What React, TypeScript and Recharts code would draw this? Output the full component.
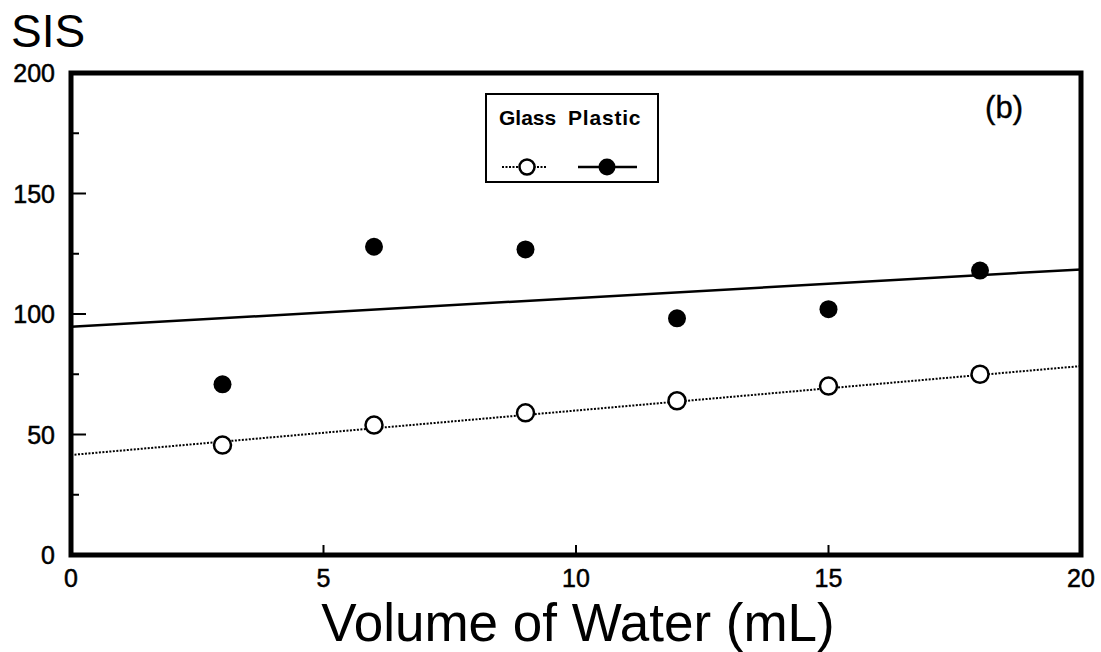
import {
  ComposedChart,
  Line,
  Scatter,
  XAxis,
  YAxis,
  ReferenceArea,
  Legend,
  Label,
} from 'recharts';

// measured SIS values at each water volume
const volumes = [3, 6, 9, 12, 15, 18];
const glassSIS = [45.6, 53.9, 59, 64, 70.1, 75];
const plasticSIS = [70.8, 127.9, 126.8, 98.2, 102, 118];

// fitted regression lines (end points)
const fitVolumes = [0, 20];
const glassFit = [41.5, 78.4];
const plasticFit = [94.7, 118.5];

const xTicks = [0, 5, 10, 15, 20];
const yTicks = [0, 25, 50, 75, 100, 125, 150, 175, 200];

const glassPoints = volumes.map((v, i) => ({ x: v, y: glassSIS[i] }));
const plasticPoints = volumes.map((v, i) => ({ x: v, y: plasticSIS[i] }));
const glassLine = fitVolumes.map((v, i) => ({ x: v, y: glassFit[i] }));
const plasticLine = fitVolumes.map((v, i) => ({ x: v, y: plasticFit[i] }));

const textFont = '"Liberation Sans", Arial, sans-serif';

const YTick = ({ x, y, payload }: any) => {
  const v = payload.value;
  const major = v % 50 === 0;
  return (
    <g>
      {v > 0 && v < 200 && (
        <line x1={x} x2={x + (major ? 15 : 8)} y1={y} y2={y} stroke="#000" strokeWidth={2} />
      )}
      {major && (
        <text x={x - 16} y={y} dy="0.36em" textAnchor="end" fontSize={25} fontFamily={textFont} fill="#000" stroke="#000" strokeWidth={0.5}>
          {v}
        </text>
      )}
    </g>
  );
};

const XTick = ({ x, y, payload }: any) => {
  const v = payload.value;
  return (
    <g>
      {v > 0 && v < 20 && <line x1={x} x2={x} y1={y} y2={y - 10} stroke="#000" strokeWidth={2} />}
      <text x={x} y={y + 32} textAnchor="middle" fontSize={25} fontFamily={textFont} fill="#000" stroke="#000" strokeWidth={0.5}>
        {v}
      </text>
    </g>
  );
};

const LegendBox = () => (
  <svg width={174} height={90}>
    <rect x={1} y={1} width={172} height={88} fill="#fff" stroke="#000" strokeWidth={2} />
    <text x={14} y={32} fontSize={21} fontWeight="bold" fontFamily={textFont} fill="#000">
      Glass
    </text>
    <text x={83} y={32} fontSize={21} fontWeight="bold" fontFamily={textFont} fill="#000" letterSpacing={0.8}>
      Plastic
    </text>
    <line x1={17} x2={62} y1={74} y2={74} stroke="#000" strokeWidth={2} strokeDasharray="2 1.5" />
    <circle cx={42} cy={74} r={7.5} fill="#fff" stroke="#000" strokeWidth={2.5} />
    <line x1={93} x2={152} y1={74} y2={74} stroke="#000" strokeWidth={2.5} />
    <circle cx={122} cy={74} r={8.5} fill="#000" />
  </svg>
);

const OpenDot = (p: any) => (
  <circle cx={p.cx} cy={p.cy} r={8.5} fill="#fff" stroke="#000" strokeWidth={2.5} />
);
const FilledDot = (p: any) => <circle cx={p.cx} cy={p.cy} r={9} fill="#000" />;

export default function App() {
  return (
    <div style={{ position: 'absolute', left: 0, top: 0, background: '#fff' }}>
      <ComposedChart width={1101} height={652} margin={{ top: 73, right: 20, bottom: 0, left: 11 }}>
        <XAxis
          type="number"
          dataKey="x"
          domain={[0, 20]}
          ticks={xTicks}
          height={97}
          axisLine={false}
          tickLine={false}
          tickSize={0}
          tickMargin={0}
          tick={<XTick />}
          allowDataOverflow
        >
          <Label
            content={({ viewBox }: any) => (
              <text
                x={viewBox.x + viewBox.width / 2 + 2}
                y={viewBox.y + 86}
                textAnchor="middle"
                fontSize={53}
                fontFamily={textFont}
                fill="#000"
              >
                Volume of Water (mL)
              </text>
            )}
          />
        </XAxis>
        <YAxis
          type="number"
          dataKey="y"
          domain={[0, 200]}
          ticks={yTicks}
          width={60}
          axisLine={false}
          tickLine={false}
          tickSize={0}
          tickMargin={0}
          tick={<YTick />}
          allowDataOverflow
        >
          <Label
            content={() => (
              <text x={11} y={47} fontSize={46} fontFamily={textFont} fill="#000">
                SIS
              </text>
            )}
          />
        </YAxis>
        <ReferenceArea
          x1={0}
          x2={20}
          y1={0}
          y2={200}
          fill="none"
          stroke="#000"
          strokeWidth={5}
          fillOpacity={0}
          strokeOpacity={1}
        >
          <Label
            content={({ viewBox }: any) => (
              <text
                x={viewBox.x + viewBox.width - 58}
                y={viewBox.y + 45}
                textAnchor="end"
                fontSize={31}
                fontFamily={textFont}
                fill="#000"
                stroke="#000"
                strokeWidth={0.4}
              >
                (b)
              </text>
            )}
          />
        </ReferenceArea>
        <Legend
          layout="horizontal"
          verticalAlign="middle"
          align="center"
          content={<LegendBox />}
          wrapperStyle={{ left: 485, top: 93, width: 174, height: 90 }}
        />
        <Line
          data={glassLine}
          dataKey="y"
          type="linear"
          stroke="#000"
          strokeWidth={2}
          strokeDasharray="2 1.5"
          dot={false}
          activeDot={false}
          legendType="none"
          isAnimationActive={false}
        />
        <Line
          data={plasticLine}
          dataKey="y"
          type="linear"
          stroke="#000"
          strokeWidth={2.5}
          dot={false}
          activeDot={false}
          legendType="none"
          isAnimationActive={false}
        />
        <Scatter name="Glass" data={glassPoints} dataKey="y" shape={<OpenDot />} isAnimationActive={false} />
        <Scatter name="Plastic" data={plasticPoints} dataKey="y" shape={<FilledDot />} isAnimationActive={false} />
      </ComposedChart>
    </div>
  );
}
